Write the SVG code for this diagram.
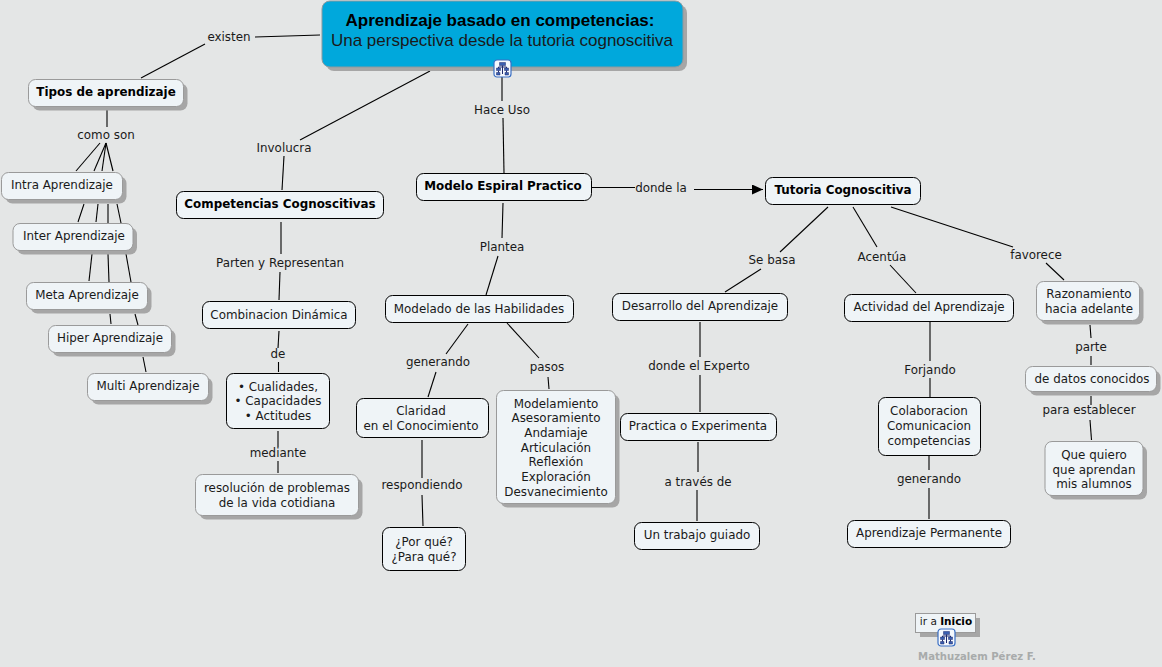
<svg xmlns="http://www.w3.org/2000/svg" width="1162" height="667" viewBox="0 0 1162 667">
<style>
text{font-family:"DejaVu Sans",Verdana,sans-serif;font-size:11.9px;fill:#1a1a1a;text-anchor:middle}
.b{font-weight:bold;fill:#000}
.s{fill:#a6a6a6}
.g{fill:#eff4f7;stroke:#9a9a9a;stroke-width:1}
.k{fill:#eff4f7;stroke:#000;stroke-width:1}
.c line{stroke:#000;stroke-width:1.1}
</style>
<defs>
<marker id="arr" markerWidth="12" markerHeight="10" refX="11" refY="5" orient="auto" markerUnits="userSpaceOnUse"><path d="M0 0L11 5L0 10Z" fill="#000"/></marker>
<g id="ico"><rect x="0" y="0" width="17" height="17" rx="3" fill="#f4f8fd" stroke="#3a6fc4" stroke-width="1.200"/><path d="M5.500 2.500h6v3h-6zM2.500 8h4v2.500h-4zM10.500 8h4v2.500h-4zM2.500 12.500h3.500v2.500h-3.500zM11 12.500h3.500v2.500H11z" fill="#3a5fb0" stroke="#1f2a6e" stroke-width=".5"/><path d="M8.500 5.500V14M4.500 7V8M12.500 7V8M4.500 7h8M4.500 10.500v2M12.500 10.500v2" fill="none" stroke="#1f2a6e" stroke-width="1"/></g>
</defs>
<rect width="1162" height="667" fill="#e4e6e6"/>
<g id="connectors" class="c">
<line x1="320" y1="35" x2="255" y2="37"/><line x1="205" y1="44" x2="141" y2="78"/>
<line x1="430" y1="71" x2="300" y2="140"/><line x1="284" y1="156" x2="282" y2="190"/>
<line x1="502" y1="77" x2="502" y2="101"/><line x1="503" y1="118" x2="504" y2="173"/>
<line x1="107" y1="110" x2="107" y2="127"/>
<line x1="100" y1="143" x2="76" y2="171"/><line x1="106" y1="143" x2="94" y2="171"/><line x1="106" y1="143" x2="102" y2="171"/><line x1="106" y1="143" x2="113" y2="171"/>
<line x1="84" y1="204" x2="78" y2="222"/><line x1="98" y1="204" x2="96" y2="222"/><line x1="108" y1="204" x2="108" y2="223"/><line x1="117" y1="204" x2="121" y2="223"/>
<line x1="92" y1="254" x2="89" y2="281"/><line x1="108" y1="254" x2="109" y2="282"/><line x1="126" y1="254" x2="131" y2="282"/>
<line x1="110" y1="314" x2="111" y2="324"/><line x1="135" y1="314" x2="138" y2="325"/>
<line x1="143" y1="357" x2="146" y2="372"/>
<line x1="281" y1="222" x2="281" y2="254"/><line x1="280" y1="272" x2="279" y2="300"/>
<line x1="279" y1="331" x2="278" y2="348"/><line x1="278.500" y1="362" x2="278.500" y2="372"/>
<line x1="278" y1="431" x2="278" y2="447"/><line x1="278" y1="461" x2="278" y2="473"/>
<line x1="503" y1="203" x2="502" y2="238"/><line x1="498" y1="256" x2="486" y2="295"/>
<line x1="468" y1="324" x2="446" y2="354"/><line x1="436" y1="372" x2="428" y2="397"/>
<line x1="507" y1="323" x2="539" y2="358"/><line x1="548" y1="377" x2="549" y2="389"/>
<line x1="422" y1="440" x2="422" y2="478"/><line x1="422" y1="495" x2="423" y2="526"/>
<line x1="592" y1="187.500" x2="635" y2="187.500"/><line x1="694" y1="189.500" x2="763" y2="189.500" marker-end="url(#arr)"/>
<line x1="828" y1="207" x2="780" y2="252"/><line x1="761" y1="269" x2="725" y2="292"/>
<line x1="853" y1="207" x2="877" y2="247"/><line x1="890" y1="265" x2="916" y2="293"/>
<line x1="891" y1="207" x2="1013" y2="247"/><line x1="1046" y1="263" x2="1064" y2="280"/>
<line x1="700" y1="322" x2="700" y2="357"/><line x1="700" y1="375" x2="700" y2="412"/>
<line x1="698" y1="442" x2="698" y2="472"/><line x1="697" y1="490" x2="697" y2="521"/>
<line x1="930" y1="322" x2="930" y2="361"/><line x1="930" y1="378" x2="930" y2="397"/>
<line x1="929" y1="456" x2="929" y2="470"/><line x1="929" y1="488" x2="929" y2="519"/>
<line x1="1090" y1="325" x2="1091" y2="338"/><line x1="1091" y1="356" x2="1091" y2="365"/>
<line x1="1091" y1="396" x2="1091" y2="405"/><line x1="1090" y1="420" x2="1091.500" y2="440"/>
</g>
<g id="labels">
<text x="229" y="41">existen</text>
<text x="284" y="152">Involucra</text>
<text x="502" y="114">Hace Uso</text>
<text x="106" y="139">como son</text>
<text x="280" y="267">Parten y Representan</text>
<text x="278" y="358">de</text>
<text x="278" y="457">mediante</text>
<text x="502" y="251">Plantea</text>
<text x="438" y="366">generando</text>
<text x="547" y="371">pasos</text>
<text x="422" y="489">respondiendo</text>
<text x="661" y="192">donde la</text>
<text x="772" y="264">Se basa</text>
<text x="882" y="261">Acentúa</text>
<text x="1036" y="259">favorece</text>
<text x="699" y="370">donde el Experto</text>
<text x="698" y="486">a través de</text>
<text x="930" y="374">Forjando</text>
<text x="929" y="483">generando</text>
<text x="1091" y="351">parte</text>
<text x="1089" y="414">para establecer</text>
</g>
<g id="n-main"><rect class="s" x="326" y="5" width="361" height="66" rx="8"/><rect x="322" y="1" width="361" height="66" rx="8" fill="#00a8dc" stroke="#8a9aa0"/>
<text x="500" y="26" style="font-family:'Liberation Sans',Arial,sans-serif;font-size:17px;font-weight:bold;fill:#000">Aprendizaje basado en competencias:</text>
<text x="502" y="46" style="font-family:'Liberation Sans',Arial,sans-serif;font-size:17px">Una perspectiva desde la tutoria cognoscitiva</text></g>
<use href="#ico" x="494" y="60"/>
<g id="n-tipos"><rect class="s" x="32.500" y="83.500" width="155" height="27" rx="7"/><rect class="g" x="28.500" y="79.500" width="155" height="27" rx="7"/><text class="b" x="106" y="96">Tipos de aprendizaje</text></g>
<g id="n-intra"><rect class="s" x="5.500" y="176.500" width="121" height="27" rx="7"/><rect class="g" x="1.500" y="172.500" width="121" height="27" rx="7"/><text x="62" y="189">Intra Aprendizaje</text></g>
<g id="n-inter"><rect class="s" x="17" y="227.500" width="120" height="27" rx="7"/><rect class="g" x="13" y="223.500" width="120" height="27" rx="7"/><text x="74" y="240">Inter Aprendizaje</text></g>
<g id="n-meta"><rect class="s" x="30.500" y="286.500" width="121" height="27" rx="7"/><rect class="g" x="26.500" y="282.500" width="121" height="27" rx="7"/><text x="87" y="299">Meta Aprendizaje</text></g>
<g id="n-hiper"><rect class="s" x="52.500" y="329.500" width="123" height="27" rx="7"/><rect class="g" x="48.500" y="325.500" width="123" height="27" rx="7"/><text x="110" y="342">Hiper Aprendizaje</text></g>
<g id="n-multi"><rect class="s" x="91.500" y="377.500" width="121" height="27" rx="7"/><rect class="g" x="87.500" y="373.500" width="121" height="27" rx="7"/><text x="148" y="390">Multi Aprendizaje</text></g>
<g id="n-comp"><rect class="k" x="176.500" y="191.500" width="207" height="27" rx="7"/><text class="b" x="280" y="208">Competencias Cognoscitivas</text></g>
<g id="n-comb"><rect class="k" x="202.500" y="301.500" width="153" height="27" rx="7"/><text x="279" y="319">Combinacion Dinámica</text></g>
<g id="n-cual"><rect class="k" x="226.500" y="373.500" width="103" height="55" rx="7"/><text x="278" y="391">• Cualidades,</text><text x="278" y="405">• Capacidades</text><text x="278" y="420">• Actitudes</text></g>
<g id="n-res"><rect class="s" x="199.500" y="478.500" width="163" height="41" rx="7"/><rect class="g" x="195.500" y="474.500" width="163" height="41" rx="7"/><text x="277" y="492">resolución de problemas</text><text x="277" y="507">de la vida cotidiana</text></g>
<g id="n-modelo"><rect class="k" x="416.500" y="173.500" width="175" height="27" rx="7"/><text class="b" x="503" y="190">Modelo Espiral Practico</text></g>
<g id="n-habil"><rect class="k" x="385.500" y="295.500" width="188" height="27" rx="7"/><text x="479" y="313">Modelado de las Habilidades</text></g>
<g id="n-clar"><rect class="k" x="356.500" y="398.500" width="132" height="39" rx="7"/><text x="421" y="415">Claridad</text><text x="421" y="430">en el Conocimiento</text></g>
<g id="n-por"><rect class="k" x="382.500" y="527.500" width="83" height="43" rx="7"/><text x="424" y="546">¿Por qué?</text><text x="424" y="561">¿Para qué?</text></g>
<g id="n-pasos"><rect class="s" x="500.500" y="394.500" width="119" height="113" rx="7"/><rect class="g" x="496.500" y="390.500" width="119" height="113" rx="7"/>
<text x="556" y="408">Modelamiento</text><text x="556" y="422">Asesoramiento</text><text x="556" y="437">Andamiaje</text><text x="556" y="452">Articulación</text><text x="556" y="466">Reflexión</text><text x="556" y="481">Exploración</text><text x="556" y="496">Desvanecimiento</text></g>
<g id="n-tutoria"><rect class="k" x="765.500" y="177.500" width="155" height="27" rx="7"/><text class="b" x="843" y="194">Tutoria Cognoscitiva</text></g>
<g id="n-desa"><rect class="k" x="612.500" y="293.500" width="175" height="27" rx="7"/><text x="700" y="310">Desarrollo del Aprendizaje</text></g>
<g id="n-prac"><rect class="k" x="620.500" y="413.500" width="156" height="27" rx="7"/><text x="698" y="430">Practica o Experimenta</text></g>
<g id="n-trab"><rect class="k" x="634.500" y="522.500" width="125" height="27" rx="7"/><text x="697" y="539">Un trabajo guiado</text></g>
<g id="n-acti"><rect class="k" x="844.500" y="294.500" width="169" height="27" rx="7"/><text x="929" y="311">Actividad del Aprendizaje</text></g>
<g id="n-cola"><rect class="k" x="878.500" y="397.500" width="102" height="58" rx="7"/><text x="929" y="415">Colaboracion</text><text x="929" y="430">Comunicacion</text><text x="929" y="445">competencias</text></g>
<g id="n-perm"><rect class="k" x="847.500" y="520.500" width="163" height="27" rx="7"/><text x="929" y="537">Aprendizaje Permanente</text></g>
<g id="n-razo"><rect class="s" x="1040.500" y="285.500" width="103" height="39" rx="7"/><rect class="g" x="1036.500" y="281.500" width="103" height="39" rx="7"/><text x="1089" y="298">Razonamiento</text><text x="1089" y="313">hacia adelante</text></g>
<g id="n-datos"><rect class="s" x="1029.500" y="370.500" width="131" height="25" rx="7"/><rect class="g" x="1025.500" y="366.500" width="131" height="25" rx="7"/><text x="1092" y="383">de datos conocidos</text></g>
<g id="n-quiero"><rect class="s" x="1049" y="445.500" width="98" height="54" rx="7"/><rect class="g" x="1045" y="441.500" width="98" height="54" rx="7"/><text x="1094" y="459">Que quiero</text><text x="1094" y="474">que aprendan</text><text x="1094" y="488">mis alumnos</text></g>
<g id="n-inicio"><rect class="s" x="920" y="618" width="60" height="19"/><rect x="915.500" y="613.500" width="60" height="19" fill="#eff4f7" stroke="#9a9a9a"/><text x="946" y="625" style="font-size:10.500px">ir a <tspan class="b">Inicio</tspan></text></g>
<use href="#ico" x="938" y="629"/>
<text class="b" x="977" y="660" style="font-size:10.100px;fill:#a8abab">Mathuzalem Pérez F.</text>
</svg>
